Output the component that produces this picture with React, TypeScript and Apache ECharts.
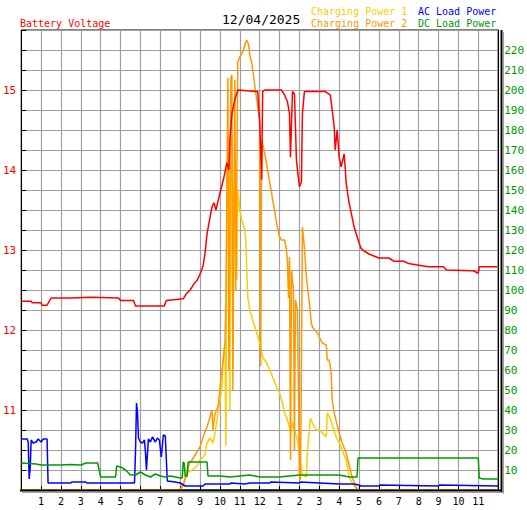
import React, { useEffect, useRef } from "react";
import * as echarts from "echarts";

const hourLabels = ["1","2","3","4","5","6","7","8","9","10","11","12","1","2","3","4","5","6","7","8","9","10","11"];

const voltHours = [0,0.5,0.55,1.0,1.05,1.3,1.5,2.5,3.5,4.9,5.0,5.65,5.75,7.2,7.3,8.15,8.3,8.5,8.7,8.85,9.0,9.15,9.25,9.35,9.5,9.6,9.7,9.8,10.0,10.2,10.35,10.45,10.5,10.6,10.75,10.85,10.9,11.9,12.0,12.1,12.15,12.25,13.1,13.25,13.4,13.5,13.55,13.65,13.75,13.85,14.0,14.1,14.15,14.25,15.3,15.55,15.65,15.75,15.8,15.9,16.0,16.1,16.25,16.3,16.35,16.5,16.65,16.75,16.85,17.0,17.1,17.25,17.5,18.0,18.5,18.75,19.25,19.5,20.0,20.5,21.25,21.4,22.75,23.0,23.05,23.95];
const voltValues = [12.36,12.36,12.34,12.34,12.31,12.31,12.40,12.40,12.41,12.40,12.37,12.37,12.30,12.30,12.37,12.39,12.45,12.50,12.58,12.62,12.70,12.80,12.96,13.2,13.41,13.54,13.59,13.50,13.71,13.91,14.09,14.0,14.37,14.7,14.88,14.96,15.0,14.98,14.6,13.88,14.98,15.0,15.0,14.94,14.85,14.7,14.16,14.98,14.95,14.12,13.79,13.85,14.7,14.98,14.98,14.94,14.75,14.54,14.25,14.5,14.16,14.04,14.2,14.04,13.84,13.59,13.41,13.29,13.21,13.09,13.02,12.99,12.95,12.90,12.90,12.86,12.86,12.83,12.81,12.79,12.79,12.75,12.74,12.71,12.79,12.79];

const cp1Hours = [0,8.05,8.25,8.4,8.6,8.85,9.0,9.25,9.35,9.5,9.65,9.75,9.85,10.0,10.1,10.15,10.25,10.3,10.35,10.4,10.45,10.5,10.55,10.6,10.65,10.7,10.8,10.85,10.9,11.0,11.1,11.25,11.3,11.35,11.4,11.5,11.65,11.85,12.0,12.15,12.35,12.5,12.65,12.85,13.0,13.15,13.25,13.35,13.5,13.6,13.65,13.75,13.9,14.15,14.35,14.4,14.55,14.65,14.85,15.0,15.15,15.35,15.4,15.5,15.85,16.0,16.15,16.35,16.5,16.65,16.85,17.0,24];
const cp1Values = [0,0,5,9,10,12,15,17.5,23.5,26,23.5,28.5,35,45,51.5,65,73.5,22,150,178,160,40,175,178,60,150,163,105,150,140,135,130,125,110,96.5,90,85,78.5,73.5,66.5,63.5,60,56.5,51.5,48.5,43.5,38.5,36.5,31.5,28.5,34,30,25,7.5,6.5,18.5,36,33.5,30,30,28.5,26.5,38.5,37,26.5,23.5,20,15,6.5,3.5,1,0,0];

const cp2Hours = [0,7.9,8.0,8.15,8.35,8.5,8.6,8.75,9.0,9.15,9.35,9.5,9.6,9.65,9.75,9.9,10.0,10.05,10.15,10.25,10.3,10.35,10.4,10.45,10.55,10.6,10.65,10.75,10.8,10.9,11.0,11.15,11.3,11.35,11.45,11.5,11.6,11.7,11.8,11.9,12.0,12.05,12.1,12.25,12.4,12.5,12.6,12.65,12.75,12.85,13.0,13.1,13.25,13.35,13.4,13.45,13.5,13.55,13.6,13.7,13.75,13.8,13.9,14.0,14.05,14.1,14.15,14.25,14.35,14.5,14.6,14.65,14.9,15.15,15.35,15.4,15.5,15.6,15.65,15.75,16.0,16.15,16.35,16.5,16.65,16.85,16.95,24];
const cp2Values = [0,0,0.5,2.5,10,14,15,17.5,21.5,26.5,31.5,36.5,40,30,38,41.5,50,56,63.5,73.5,95,150,206,60,206,207.5,50,205,100,214,216.5,219,224,225,222.5,217.5,213.5,206.5,198.5,191.5,185,62,175,168.5,160,154,148.5,145,140,133.5,126.5,125,125,120,113.5,96,116.5,15,110,100,20,95,90,8,5,60,131.5,121.5,106.5,93.5,83.5,81.5,78.5,73.5,72.5,65,65,58.5,45,38.5,28.5,23.5,18.5,12.5,6.5,1.5,0,0];

const acHours = [0,0.3,0.35,0.4,0.45,0.5,0.6,0.75,0.85,1.0,1.1,1.3,1.35,2.5,2.55,3.25,3.3,5.7,5.75,5.8,5.85,5.9,6.0,6.1,6.2,6.25,6.3,6.4,6.5,6.6,6.75,6.85,6.95,7.05,7.15,7.25,7.35,7.75,8.0,8.25,9.15,9.25,10.5,10.55,11.25,11.5,12.5,12.55,14.0,14.05,15.0,16.0,16.75,17.0,17.1,18.0,18.05,21.0,21.05,24];
const acValues = [25.5,25.5,24,5.5,11,25,23.5,24,25.5,24,25.5,25.5,3.5,3.5,4,4,3.5,3.5,19,43.5,39,26,24,23.5,25,19,10,25.5,24,26.5,24,26,25,16.5,27.5,27,4.5,4,3.5,2,2,3,3,3.5,3,3.5,3.5,4,3.5,4,3.5,3,3,2.5,2,2,2.5,2,2.5,2];

const dcHours = [0,0.75,1.0,2.0,2.5,3.0,3.25,3.85,3.9,4.0,4.75,4.8,5.0,5.25,5.5,5.75,6.0,6.25,6.5,6.75,7.0,7.25,7.5,7.75,8.0,8.1,8.15,8.2,8.25,8.35,8.4,9.35,9.4,10.0,10.5,11.0,11.5,12.0,13.0,14.0,15.0,16.0,16.5,16.9,16.95,23.0,23.05,23.25,24];
const dcValues = [13.5,13,12.5,12.5,12.8,12.5,13.5,13.5,11,6.5,6.5,12,11.5,10,7.5,7.5,9,7.5,6.5,8,7,6.5,7,6.5,6,6,14,13.5,7,7,14,14,7,7,6.5,7,7.5,6.5,6.5,7.5,7.5,7.5,6.5,6.5,16,16,6,5.5,5.5];

const FONT = "DejaVu Sans Mono";

function pairs(h: number[], v: number[]) {
  return h.map((t, i) => [t, v[i]]);
}

export default function App() {
  const ref = useRef<HTMLDivElement>(null);
  useEffect(() => {
    if (!ref.current) return;
    const chart = echarts.init(ref.current, undefined, { renderer: "svg" });
    const line = (name: string, h: number[], v: number[], color: string, yIdx: number, z: number) => ({
      name,
      type: "line",
      yAxisIndex: yIdx,
      data: pairs(h, v),
      showSymbol: false,
      symbol: "none",
      z,
      lineStyle: { color, width: 1.5 },
      itemStyle: { color },
    });
    chart.setOption({
      animation: false,
      backgroundColor: "#ffffff",
      grid: {
        left: 20, top: 30, width: 480, height: 460,
        show: true, borderColor: "#000", borderWidth: 1, backgroundColor: "transparent",
      },
      xAxis: {
        type: "value", min: 0, max: 24, interval: 1,
        axisLine: { show: true, lineStyle: { color: "#000", width: 1 } },
        axisTick: { show: true, inside: true, length: 4, lineStyle: { color: "#000" } },
        splitLine: { show: true, lineStyle: { color: "#a0a0a0", width: 1.2 } },
        axisLabel: {
          color: "#000", fontFamily: FONT, fontSize: 10, margin: 6,
          formatter: (v: number) => (v >= 1 && v <= 23 ? hourLabels[Math.round(v) - 1] : ""),
        },
      },
      yAxis: [
        {
          type: "value", min: 10, max: 15.75, interval: 0.25, position: "left",
          axisLine: { show: true, lineStyle: { color: "#000", width: 1 } },
          axisTick: { show: true, inside: true, length: 5, lineStyle: { color: "#000" } },
          splitLine: { show: true, lineStyle: { color: "#a0a0a0", width: 1.2 } },
          axisLabel: {
            color: "#ff0000", fontFamily: FONT, fontSize: 11, margin: 5,
            formatter: (v: number) => (Math.abs(v - Math.round(v)) < 1e-6 && v >= 11 && v <= 15 ? String(Math.round(v)) : ""),
          },
        },
        {
          type: "value", min: 0, max: 230, interval: 10, position: "right",
          axisLine: { show: true, lineStyle: { color: "#000", width: 1 } },
          axisTick: { show: false },
          splitLine: { show: false },
          axisLabel: {
            color: "#009900", fontFamily: FONT, fontSize: 11, margin: 6,
            formatter: (v: number) => (v >= 10 && v <= 220 ? String(v) : ""),
          },
        },
      ],
      graphic: [
        { type: "line", shape: { x1: 501.5, y1: 30, x2: 501.5, y2: 492 }, style: { stroke: "#000", lineWidth: 2 }, z: 10 },
        { type: "line", shape: { x1: 503.5, y1: 32, x2: 503.5, y2: 494 }, style: { stroke: "#a0a0a0", lineWidth: 1 }, z: 10 },
        { type: "line", shape: { x1: 20, y1: 490.5, x2: 502, y2: 490.5 }, style: { stroke: "#000", lineWidth: 2 }, z: 10 },
        { type: "line", shape: { x1: 22, y1: 492.5, x2: 504, y2: 492.5 }, style: { stroke: "#a0a0a0", lineWidth: 1 }, z: 10 },
        { type: "text", left: 20, top: 18, style: { text: "Battery Voltage", fill: "#ff0000", font: `10px '${FONT}'` } },
        { type: "text", left: 222, top: 13, style: { text: "12/04/2025", fill: "#000000", font: `13px '${FONT}'` } },
        { type: "text", left: 311, top: 6, style: { text: "Charging Power 1", fill: "#ffcc00", font: `10px '${FONT}'` } },
        { type: "text", left: 311, top: 18, style: { text: "Charging Power 2", fill: "#ff9900", font: `10px '${FONT}'` } },
        { type: "text", left: 418, top: 6, style: { text: "AC Load Power", fill: "#0000ff", font: `10px '${FONT}'` } },
        { type: "text", left: 418, top: 18, style: { text: "DC Load Power", fill: "#009900", font: `10px '${FONT}'` } },
      ],
      series: [
        line("Charging Power 1", cp1Hours, cp1Values, "#ffcc00", 1, 2),
        line("Charging Power 2", cp2Hours, cp2Values, "#ff9900", 1, 3),
        line("AC Load Power", acHours, acValues, "#0000ff", 1, 4),
        line("DC Load Power", dcHours, dcValues, "#009900", 1, 5),
        line("Battery Voltage", voltHours, voltValues, "#ff0000", 0, 6),
      ],
    });
    return () => chart.dispose();
  }, []);
  return (
    <div
      ref={ref}
      style={{ position: "fixed", left: 0, top: 0, width: 527, height: 510, background: "#fff" }}
    />
  );
}
